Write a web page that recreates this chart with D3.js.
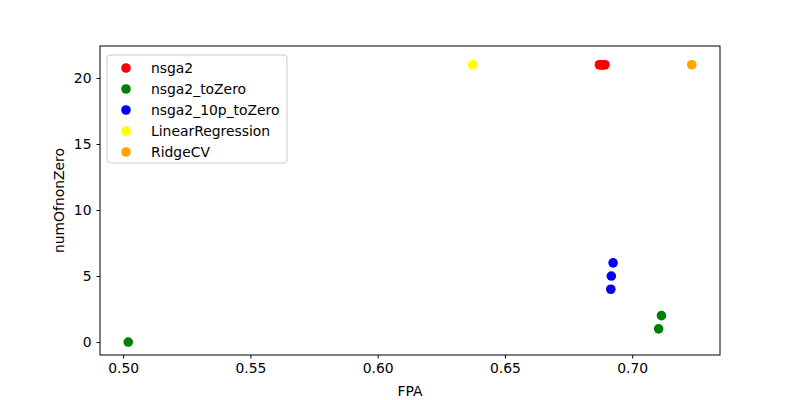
<!DOCTYPE html><html><head><meta charset="utf-8">
<script src="https://cdn.jsdelivr.net/npm/d3@7"></script>
<style>body{margin:0;background:#fff}text{font-family:"DejaVu Sans",sans-serif}</style></head><body>
<svg id="c" width="800" height="400"></svg>
<script>
const seriesNames=["nsga2","nsga2_toZero","nsga2_10p_toZero","LinearRegression","RidgeCV"];
const colors=["red","green","blue","yellow","orange"];
const nsga2X=[0.6871,0.6876,0.6880,0.6884,0.6888,0.6893],nsga2Y=[21,21,21,21,21,21];
const toZeroX=[0.502,0.7104,0.7115],toZeroY=[0,1,2];
const p10X=[0.6916,0.6918,0.6925],p10Y=[4,5,6];
const linX=[0.6373],linY=[21];
const ridgeX=[0.7234],ridgeY=[21];
const xTicks=[0.50,0.55,0.60,0.65,0.70],yTicks=[0,5,10,15,20];
const data=[[nsga2X,nsga2Y],[toZeroX,toZeroY],[p10X,p10Y],[linX,linY],[ridgeX,ridgeY]];
const svg=d3.select("#c");
const L=100,R=720,T=46,B=355;
const x=d3.scaleLinear().domain([0.4909,0.7345]).range([L,R]);
const y=d3.scaleLinear().domain([-0.98,22.42]).range([B,T]);
data.forEach((d,i)=>{svg.append("g").selectAll("circle").data(d[0]).join("circle")
 .attr("cx",v=>x(v)).attr("cy",(v,j)=>y(d[1][j])).attr("r",4.8).attr("fill",colors[i]);});
const xa=svg.append("g").attr("transform",`translate(0,${B})`).call(d3.axisBottom(x).tickValues(xTicks).tickFormat(d3.format(".2f")).tickSize(3.5).tickPadding(5));
const ya=svg.append("g").attr("transform",`translate(${L},0)`).call(d3.axisLeft(y).tickValues(yTicks).tickSize(3.5).tickPadding(5));
[xa,ya].forEach(a=>{a.select(".domain").remove();a.selectAll("text").attr("font-size",13.9).attr("font-family","DejaVu Sans").attr("fill","#000");a.selectAll("line").attr("stroke","#000");});
svg.append("rect").attr("x",L).attr("y",T).attr("width",R-L).attr("height",B-T).attr("fill","none").attr("stroke","#000").attr("stroke-width",1);
svg.append("text").attr("x",(L+R)/2).attr("y",396).attr("text-anchor","middle").attr("font-size",13.9).text("FPA");
svg.append("text").attr("transform",`translate(64,${(T+B)/2}) rotate(-90)`).attr("text-anchor","middle").attr("font-size",13.9).text("numOfnonZero");
const lg=svg.append("g");
lg.append("rect").attr("x",107).attr("y",55).attr("width",180).attr("height",108).attr("rx",3).attr("fill","#fff").attr("fill-opacity",0.8).attr("stroke","#ccc");
seriesNames.forEach((n,i)=>{const cy=68+i*21;
 lg.append("circle").attr("cx",126).attr("cy",cy).attr("r",4.8).attr("fill",colors[i]);
 lg.append("text").attr("x",151).attr("y",cy+5).attr("font-size",13.9).text(n);});
</script></body></html>
